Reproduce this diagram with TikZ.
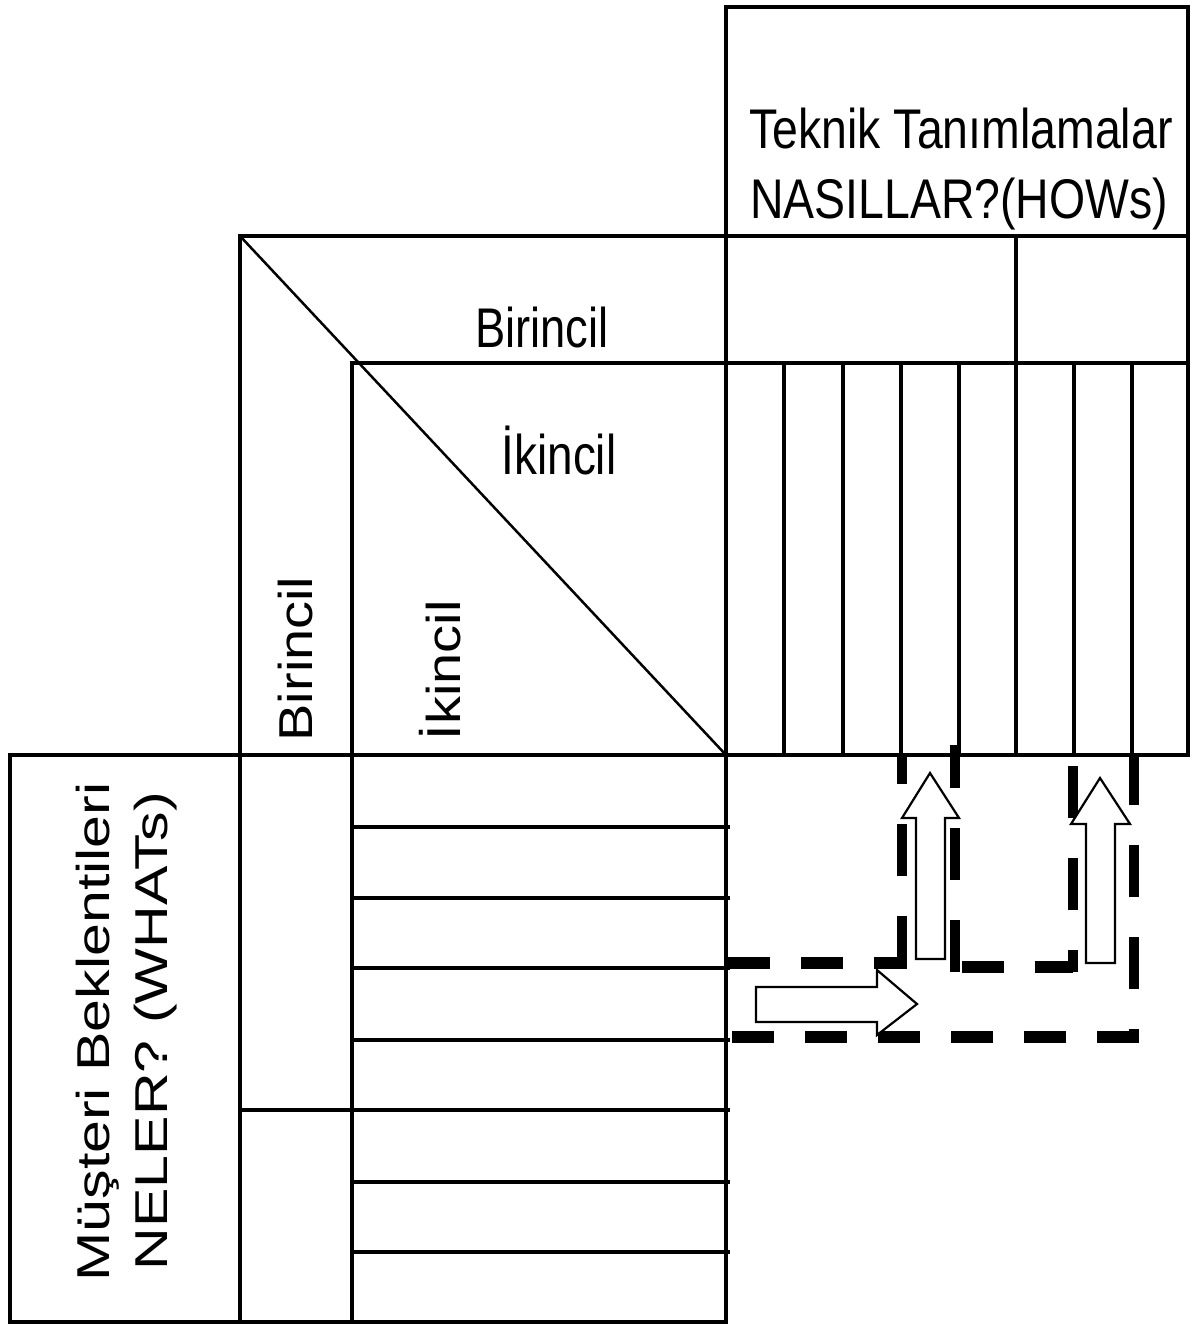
\documentclass[tikz,border=0pt]{standalone}
\usepackage{fontspec}
\setmainfont{Liberation Sans}
\begin{document}
\begin{tikzpicture}[x=0.01cm,y=-0.01cm,
  grid/.style={line width=0.048cm},
  diag/.style={line width=0.025cm},
  hdash/.style={line width=0.118cm, dash pattern=on 0.42cm off 0.31cm},
  vdash/.style={line width=0.10cm, dash pattern=on 0.52cm off 0.40cm},
  blockarrow/.style={draw, fill=white, line width=0.022cm, line join=miter},
  hlabel/.style={inner sep=0pt, anchor=base, font=\fontsize{15.9}{19}\selectfont},
  vlabel/.style={inner sep=0pt, anchor=base west, rotate=90, font=\fontsize{15.9}{19}\selectfont},
  wlabel/.style={inner sep=0pt, anchor=base, rotate=90, font=\fontsize{16.8}{20}\selectfont}]
\useasboundingbox (0,0) rectangle (1193,1327);

% ---- grid ----
\draw[grid] (726,7) -- (1188,7);
\draw[grid] (240,236) -- (1190,236);
\draw[grid] (352,363) -- (1190,363);
\draw[grid] (10,755) -- (1190,755);
\draw[grid] (10,1322) -- (728,1322);
\draw[grid] (1188,5) -- (1188,757);
\draw[grid] (726,5) -- (726,1324);
\draw[grid] (1016,236) -- (1016,755);
\draw[grid] (10,753) -- (10,1324);
\draw[grid] (240,234) -- (240,1324);
\draw[grid] (352,361) -- (352,1324);
\foreach \xx in {784,843,901,959,1074,1132}
  \draw[grid] (\xx,363) -- (\xx,755);
\foreach \yy in {827,898,968,1040,1182,1252}
  \draw[grid] (352,\yy) -- (730,\yy);
\draw[grid] (240,1110) -- (730,1110);
\draw[diag] (240,236) -- (726,755);

% ---- labels ----
\node[hlabel] (tek1) at (961,148) {\scalebox{0.83}[1]{Teknik Tanımlamalar}};
\node[hlabel] (tek2) at (959,218) {\scalebox{0.83}[1]{NASILLAR?(HOWs)}};
\node[hlabel] (hbir) at (542,347) {\scalebox{0.81}[1]{Birincil}};
\node[hlabel] (hikn) at (559,474) {\scalebox{0.82}[1]{İkincil}};
\node[vlabel] (vbir) at (312,742) {\scalebox{1}[0.85]{Birincil}};
\node[vlabel] (vikn) at (460,741) {\scalebox{1}[0.85]{İkincil}};
\node[wlabel] (must) at (110,1032) {\scalebox{1}[0.78]{Müşteri Beklentileri}};
\node[wlabel] (nele) at (167,1031) {\scalebox{1}[0.78]{NELER? (WHATs)}};

% ---- dashed outline ----
\draw[hdash] (728,963) -- (907,963);
\draw[vdash] (902,968) -- (902,753);
\draw[vdash] (955,972) -- (955,745);
\draw[hdash] (962,967) -- (1073,967);
\draw[vdash] (1073,766) -- (1073,972);
\draw[vdash] (1134,753) -- (1134,1043);
\draw[hdash] (732,1037) -- (1139,1037);

% ---- block arrows ----
\draw[blockarrow] (916,959) -- (916,818) -- (902,818) -- (930,773) -- (959,818) -- (945,818) -- (945,959) -- cycle;
\draw[blockarrow] (1086,963) -- (1086,824) -- (1071,824) -- (1100,778) -- (1130,824) -- (1115,824) -- (1115,963) -- cycle;
\draw[blockarrow] (756,987) -- (877,987) -- (877,970) -- (917,1004) -- (877,1035) -- (877,1022) -- (756,1022) -- cycle;
\end{tikzpicture}
\end{document}
